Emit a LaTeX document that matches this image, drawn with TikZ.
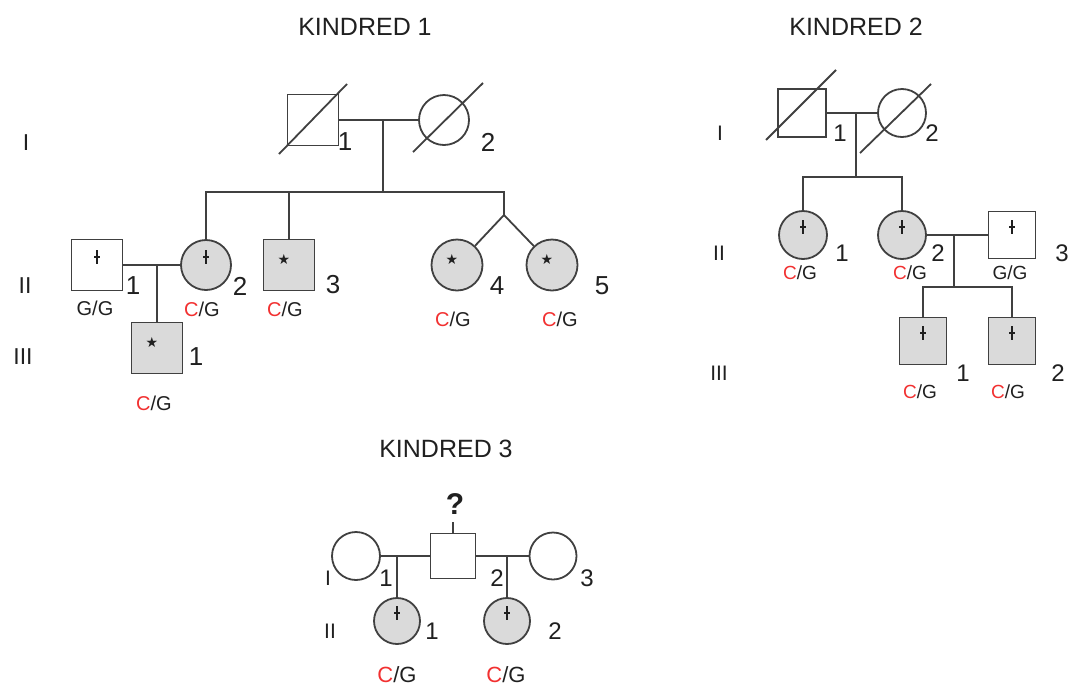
\documentclass[tikz,border=0pt]{standalone}
\usepackage{fontspec}
\setmainfont{Liberation Sans}
\newfontfamily\djv{DejaVu Sans}
\definecolor{lc}{HTML}{404040}
\definecolor{af}{HTML}{DADADA}
\definecolor{txt}{HTML}{202020}
\definecolor{cred}{HTML}{F23030}
\newcommand\CG{{\color{cred}C}/G}
\tikzset{
  ind/.style={draw=lc, line width=1.8pt, inner sep=0pt, fill=white},
  sq/.style={ind, rectangle, minimum size=#1},
  ci/.style={ind, circle, minimum size=#1},
  aff/.style={fill=af},
  ln/.style={draw=lc, line width=1.8pt},
  cmline/.style={draw=txt, line width=1.8pt},
  cmtick/.style={draw=txt, line width=2.2pt},
  txtnode/.style={inner sep=0pt, text=txt},
  title/.style={txtnode, font=\fontsize{25}{30}\selectfont},
  numA/.style={txtnode, font=\fontsize{26}{30}\selectfont},
  numB/.style={txtnode, font=\fontsize{24}{28}\selectfont},
  gtA/.style={txtnode, font=\fontsize{20}{24}\selectfont},
  gtB/.style={txtnode, font=\fontsize{19}{23}\selectfont},
  gtC/.style={txtnode, font=\fontsize{22}{26}\selectfont},
  romA/.style={txtnode, font=\fontsize{23}{27}\selectfont},
  romB/.style={txtnode, font=\fontsize{21}{25}\selectfont},
  starmk/.style={txtnode, font=\djv\fontsize{14}{15}\selectfont},
}
\newcommand\carrier[1]{%
  \draw[cmline] ([shift={(0,-15)}]#1.center) -- ([shift={(0,-1)}]#1.center);
  \draw[cmtick] ([shift={(-3,-8)}]#1.center) -- ([shift={(3,-8)}]#1.center);}
\begin{document}
\begin{tikzpicture}[x=1pt,y=-1pt]
\useasboundingbox[fill=white] (0,0) rectangle (1068,686);

% ================= KINDRED 1 =================
\node[title] (k1t) at (365,27) {KINDRED 1};
\node[romA] (k1r1) at (26,143) {I};
\node[romA] (k1r2) at (25,286) {II};
\node[romA] (k1r3) at (23,357) {III};

\node[sq=51pt] (k1I1) at (313,120) {};
\node[ci=50pt] (k1I2) at (444,120) {};
\coordinate (k1m) at (383,120);
\coordinate (k1s) at (383,192);
\coordinate (k1tw) at (504,215);
\node[sq=51pt] (k1II1) at (97,265) {};
\node[ci=50pt, aff] (k1II2) at (206,265) {};
\node[sq=51pt, aff] (k1II3) at (289,265) {};
\node[ci=51pt, aff] (k1II4) at (457,265) {};
\node[ci=51pt, aff] (k1II5) at (552,265) {};
\coordinate (k1m2) at (157,265);
\node[sq=51pt, aff] (k1III1) at (157,348) {};

\draw[ln] (k1I1) -- (k1I2);
\draw[ln] (k1m) -- (k1s);
\draw[ln] (k1II2) |- (k1tw |- k1s) -- (k1tw);
\draw[ln] (k1II3) -- (k1II3 |- k1s);
\draw[ln] (k1tw) -- (k1II4);
\draw[ln] (k1tw) -- (k1II5);
\draw[ln] (k1II1) -- (k1II2);
\draw[ln] (k1m2) -- (k1III1);
\draw[ln] ([shift={(-34,34)}]k1I1.center) -- ([shift={(34,-36)}]k1I1.center);
\draw[ln] ([shift={(-31,32)}]k1I2.center) -- ([shift={(39,-37)}]k1I2.center);

\carrier{k1II1}
\carrier{k1II2}
\node[starmk] (k1st3) at ([shift={(-5,-6)}]k1II3.center) {★};
\node[starmk] (k1st4) at ([shift={(-5,-6)}]k1II4.center) {★};
\node[starmk] (k1st5) at ([shift={(-5,-6)}]k1II5.center) {★};
\node[starmk] (k1st6) at ([shift={(-5,-6)}]k1III1.center) {★};

\node[numA] (k1n1) at (345,142) {1};
\node[numA] (k1n2) at (488,142) {2};
\node[numA] (k1n3) at (133,286) {1};
\node[numA] (k1n4) at (240,286) {2};
\node[numA] (k1n5) at (333,285) {3};
\node[numA] (k1n6) at (497,286) {4};
\node[numA] (k1n7) at (602,286) {5};
\node[numA] (k1n8) at (196,357) {1};
\node[gtA] (k1g1) at (95,308) {G/G};
\node[gtA] (k1g2) at (202,309) {\CG};
\node[gtA] (k1g3) at (285,309) {\CG};
\node[gtA] (k1g4) at (453,319) {\CG};
\node[gtA] (k1g5) at (560,319) {\CG};
\node[gtA] (k1g6) at (154,403) {\CG};

% ================= KINDRED 2 =================
\node[title] (k2t) at (856,27) {KINDRED 2};
\node[romB] (k2r1) at (720,133) {I};
\node[romB] (k2r2) at (719,253) {II};
\node[romB] (k2r3) at (719,373) {III};

\node[sq=48pt] (k2I1) at (802,113) {};
\node[ci=48pt] (k2I2) at (902,113) {};
\coordinate (k2m) at (856,113);
\coordinate (k2s) at (856,177);
\node[ci=48pt, aff] (k2II1) at (803,235) {};
\node[ci=48pt, aff] (k2II2) at (902,235) {};
\node[sq=47pt] (k2II3) at (1012,235) {};
\coordinate (k2m2) at (954,235);
\coordinate (k2s2) at (954,287);
\node[sq=47pt, aff] (k2III1) at (923,341) {};
\node[sq=47pt, aff] (k2III2) at (1012,341) {};

\draw[ln] (k2I1) -- (k2I2);
\draw[ln] (k2m) -- (k2s);
\draw[ln] (k2II1) |- (k2s) -| (k2II2);
\draw[ln] (k2II2) -- (k2II3);
\draw[ln] (k2m2) -- (k2s2);
\draw[ln] (k2III1) |- (k2s2) -| (k2III2);
\draw[ln] ([shift={(-36,27)}]k2I1.center) -- ([shift={(34,-43)}]k2I1.center);
\draw[ln] ([shift={(-42,40)}]k2I2.center) -- ([shift={(29,-29)}]k2I2.center);

\carrier{k2II1}
\carrier{k2II2}
\carrier{k2II3}
\carrier{k2III1}
\carrier{k2III2}

\node[numB] (k2n1) at (840,133) {1};
\node[numB] (k2n2) at (932,133) {2};
\node[numB] (k2n3) at (842,253) {1};
\node[numB] (k2n4) at (938,253) {2};
\node[numB] (k2n5) at (1062,253) {3};
\node[numB] (k2n6) at (963,373) {1};
\node[numB] (k2n7) at (1058,373) {2};
\node[gtB] (k2g1) at (800,273) {\CG};
\node[gtB] (k2g2) at (910,273) {\CG};
\node[gtB] (k2g3) at (1010,273) {G/G};
\node[gtB] (k2g4) at (920,392) {\CG};
\node[gtB] (k2g5) at (1008,392) {\CG};

% ================= KINDRED 3 =================
\node[title] (k3t) at (446,449) {KINDRED 3};
\node[romB] (k3r1) at (328,578) {I};
\node[romB] (k3r2) at (330,631) {II};

\node[ci=48pt] (k3I1) at (356,556) {};
\node[sq=45pt] (k3I2) at (453,556) {};
\node[ci=47pt] (k3I3) at (553,556) {};
\coordinate (k3m1) at (397,556);
\coordinate (k3m2) at (507,556);
\node[ci=46pt, aff] (k3II1) at (397,621) {};
\node[ci=46pt, aff] (k3II2) at (507,621) {};
\coordinate (k3q) at ([shift={(0,-11)}]k3I2.north);
\node[txtnode, font=\bfseries\fontsize{30}{34}\selectfont] (k3qm) at (455,504) {?};

\draw[ln] (k3I1) -- (k3I2);
\draw[ln] (k3I2) -- (k3I3);
\draw[ln] (k3m1) -- (k3II1);
\draw[ln] (k3m2) -- (k3II2);
\draw[ln] (k3I2.north) -- (k3q);

\carrier{k3II1}
\carrier{k3II2}

\node[numB] (k3n1) at (386,578) {1};
\node[numB] (k3n2) at (497,578) {2};
\node[numB] (k3n3) at (587,578) {3};
\node[numB] (k3n4) at (432,631) {1};
\node[numB] (k3n5) at (555,631) {2};
\node[gtC] (k3g1) at (397,675) {\CG};
\node[gtC] (k3g2) at (506,675) {\CG};
\end{tikzpicture}
\end{document}
